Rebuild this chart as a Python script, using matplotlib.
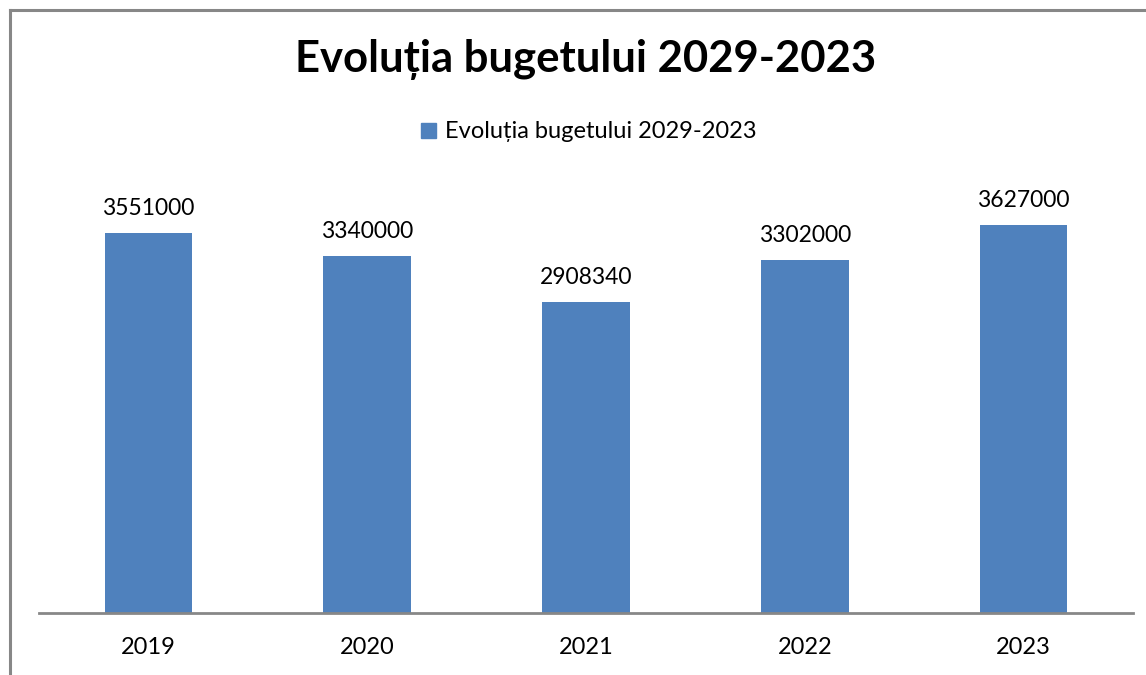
import matplotlib
matplotlib.use("Agg")
import matplotlib.pyplot as plt
from matplotlib.lines import Line2D
from matplotlib.patches import Patch

plt.rcParams['font.family'] = ['Lato', 'DejaVu Sans']

years = ["2019", "2020", "2021", "2022", "2023"]
values = [3551000, 3340000, 2908340, 3302000, 3627000]
series_name = "Evoluția bugetului 2029-2023"
title = "Evoluția bugetului 2029-2023"

W, H = 1146, 675
fig = plt.figure(figsize=(W / 100, H / 100), dpi=100)
fig.patch.set_facecolor("white")

# chart border (only top and left visible)
fig.add_artist(Line2D([10 / W, 10 / W], [0, 1 - 9.5 / H], transform=fig.transFigure,
                      color="#878787", lw=2.2))
fig.add_artist(Line2D([10 / W, 1], [1 - 9.5 / H, 1 - 9.5 / H], transform=fig.transFigure,
                      color="#878787", lw=2.2))

left, right = 39, 1133
top, bottom = 185, 613
ax = fig.add_axes([left / W, 1 - bottom / H, (right - left) / W, (bottom - top) / H])
x = range(len(years))
bars = ax.bar(x, values, width=0.4, color="#4F81BD", zorder=2)
ax.set_xlim(-0.5, len(years) - 0.5)
ax.set_ylim(0, 4000000)
ax.set_yticks([])
ax.set_xticks(list(x))
ax.set_xticklabels(years, fontsize=17)
ax.tick_params(axis="x", length=0, pad=17)
for s in ["top", "right", "left"]:
    ax.spines[s].set_visible(False)
ax.spines["bottom"].set_color("#878787")
ax.spines["bottom"].set_linewidth(2)
ax.set_facecolor("none")

for xi, v in zip(x, values):
    ax.annotate(f"{v}", (xi, v), xytext=(0, 10), textcoords="offset points",
                ha="center", va="bottom", fontsize=16.5)

fig.text(586 / W, 1 - 60 / H, title, ha="center", va="center",
         fontsize=31.4, fontweight="bold")

leg = fig.legend([Patch(color="#4F81BD")], [series_name], loc="center",
                 bbox_to_anchor=(589 / W, 1 - 132 / H), frameon=False,
                 fontsize=17, handlelength=0.6, handleheight=0.6,
                 handletextpad=0.4)

fig.savefig("out.png", dpi=100)
